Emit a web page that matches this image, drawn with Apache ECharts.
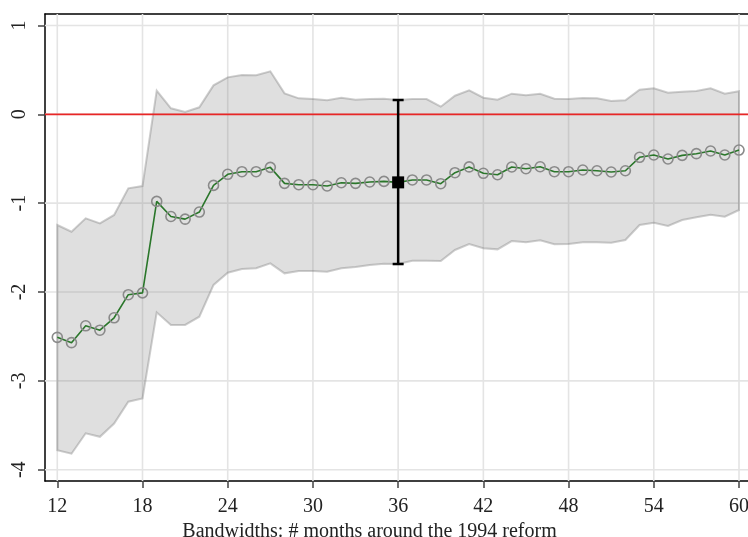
<!DOCTYPE html>
<html>
<head>
<meta charset="utf-8">
<script src="https://cdn.jsdelivr.net/npm/echarts@6/dist/echarts.min.js"></script>
<style>
  html, body { margin: 0; padding: 0; background: #ffffff; }
  #chart { width: 748px; height: 537px; }
</style>
</head>
<body>
<div id="chart"></div>
<script>
// Bandwidth (months around the 1994 reform)
const months = [
  12, 13, 14, 15, 16, 17, 18, 19, 20, 21, 22, 23, 24, 25, 26, 27, 28,
  29, 30, 31, 32, 33, 34, 35, 36, 37, 38, 39, 40, 41, 42, 43, 44, 45,
  46, 47, 48, 49, 50, 51, 52, 53, 54, 55, 56, 57, 58, 59, 60
];

// Point estimates per bandwidth
const estimate = [
  -2.51, -2.57, -2.38, -2.43, -2.29, -2.03, -2.01, -0.98, -1.15, -1.18,
  -1.10, -0.80, -0.675, -0.646, -0.646, -0.597, -0.777, -0.792, -0.792,
  -0.807, -0.770, -0.777, -0.762, -0.755, -0.766, -0.739, -0.739, -0.781,
  -0.657, -0.592, -0.664, -0.680, -0.593, -0.612, -0.590, -0.646, -0.646,
  -0.627, -0.635, -0.649, -0.635, -0.484, -0.458, -0.503, -0.462, -0.443,
  -0.413, -0.458, -0.402
];

// Upper bound of the confidence interval
const upper = [
  -1.246, -1.321, -1.171, -1.227, -1.133, -0.833, -0.807, 0.266, 0.068,
  0.026, 0.079, 0.326, 0.416, 0.442, 0.439, 0.484, 0.236, 0.180, 0.172,
  0.158, 0.187, 0.164, 0.172, 0.176, 0.161, 0.172, 0.172, 0.086, 0.209,
  0.270, 0.187, 0.164, 0.232, 0.214, 0.232, 0.176, 0.172, 0.183, 0.180,
  0.150, 0.158, 0.277, 0.293, 0.243, 0.254, 0.262, 0.293, 0.232, 0.259
];

// Lower bound of the confidence interval
const lower = [
  -3.780, -3.820, -3.590, -3.630, -3.480, -3.235, -3.197, -2.229, -2.371,
  -2.371, -2.278, -1.920, -1.783, -1.741, -1.733, -1.677, -1.790, -1.764,
  -1.764, -1.771, -1.733, -1.719, -1.696, -1.681, -1.685, -1.648, -1.648,
  -1.651, -1.527, -1.460, -1.508, -1.520, -1.426, -1.441, -1.418, -1.463,
  -1.460, -1.441, -1.441, -1.445, -1.415, -1.246, -1.220, -1.257, -1.190,
  -1.159, -1.130, -1.152, -1.077
];

// Axis ticks
const xTicks = [12, 18, 24, 30, 36, 42, 48, 54, 60];
const yTicks = [-4, -3, -2, -1, 0, 1];

// Bandwidth whose estimate is shown with its interval
const markedBandwidth = 36;

const X_MIN = 11.134, X_MAX = 60.634;
const Y_MIN = -4.127, Y_MAX = 1.129;
const FONT = 'Liberation Serif';

const chart = echarts.init(document.getElementById('chart'), null, { renderer: 'canvas' });

const bandData = months.map((m, i) => [m, lower[i], upper[i]]);
const lineData = months.map((m, i) => [m, estimate[i]]);
const mi = months.indexOf(markedBandwidth);
const barData = [[markedBandwidth, lower[mi], upper[mi], estimate[mi]]];

const option = {
  animation: false,
  backgroundColor: '#ffffff',
  grid: { left: 45, top: 14, right: 0, bottom: 56, containLabel: false, outerBoundsMode: 'none' },
  xAxis: [
    {
      type: 'value',
      position: 'bottom',
      min: X_MIN,
      max: X_MAX,
      axisLine: { show: true, onZero: false, lineStyle: { color: '#000', width: 1.5 } },
      axisTick: { show: true, customValues: xTicks, length: 7, lineStyle: { color: '#444', width: 1.5 } },
      axisLabel: { customValues: xTicks, margin: 16, fontFamily: FONT, fontSize: 20, color: '#222' },
      splitLine: { show: false },
      name: 'Bandwidths: # months around the 1994 reform',
      nameLocation: 'middle',
      nameGap: 32,
      nameTextStyle: { fontFamily: FONT, fontSize: 20, color: '#222', padding: [0, 54, 0, 0] }
    },
    {
      type: 'value',
      position: 'top',
      min: X_MIN,
      max: X_MAX,
      axisLine: { show: true, onZero: false, lineStyle: { color: '#000', width: 1.5 } },
      axisTick: { show: false },
      axisLabel: { show: false },
      splitLine: { show: false }
    }
  ],
  yAxis: {
    type: 'value',
    min: Y_MIN,
    max: Y_MAX,
    axisLine: { show: true, onZero: false, lineStyle: { color: '#000', width: 1.5 } },
    axisTick: { show: true, customValues: yTicks, length: 7, lineStyle: { color: '#444', width: 1.5 } },
    axisLabel: {
      customValues: yTicks, rotate: 90, margin: 15,
      fontFamily: FONT, fontSize: 20, color: '#222',
      formatter: v => String(v)
    },
    splitLine: { show: false }
  },
  series: [
    // vertical grid lines
    {
      type: 'custom',
      z: 1,
      silent: true,
      data: xTicks.map(v => [v, 0]),
      renderItem: (params, api) => {
        const a = api.coord([api.value(0), Y_MIN]);
        const b = api.coord([api.value(0), Y_MAX]);
        return { type: 'line', shape: { x1: a[0], y1: a[1], x2: b[0], y2: b[1] },
                 style: { stroke: '#e4e4e4', lineWidth: 1.6 } };
      }
    },
    // horizontal grid lines
    {
      type: 'custom',
      z: 1,
      silent: true,
      data: yTicks.map(v => [12, v]),
      renderItem: (params, api) => {
        const a = api.coord([X_MIN, api.value(1)]);
        const b = api.coord([X_MAX, api.value(1)]);
        return { type: 'line', shape: { x1: a[0], y1: a[1], x2: b[0], y2: b[1] },
                 style: { stroke: '#e4e4e4', lineWidth: 1.6 } };
      }
    },
    // confidence band
    {
      type: 'custom',
      z: 2,
      silent: true,
      data: bandData,
      encode: { x: 0, y: [1, 2] },
      renderItem: (params, api) => {
        if (params.dataIndex !== 0) return null;
        const pts = [];
        for (let i = 0; i < bandData.length; i++) pts.push(api.coord([bandData[i][0], bandData[i][2]]));
        for (let i = bandData.length - 1; i >= 0; i--) pts.push(api.coord([bandData[i][0], bandData[i][1]]));
        return {
          type: 'polygon',
          shape: { points: pts },
          style: { fill: 'rgba(120,120,120,0.24)', stroke: 'rgba(120,120,120,0.36)', lineWidth: 2 }
        };
      }
    },
    // zero reference line
    {
      type: 'custom',
      z: 3,
      silent: true,
      data: [[12, 0]],
      renderItem: (params, api) => {
        const a = api.coord([X_MIN, api.value(1)]);
        const b = api.coord([X_MAX, api.value(1)]);
        return { type: 'line', shape: { x1: a[0], y1: a[1], x2: b[0], y2: b[1] },
                 style: { stroke: '#e82626', lineWidth: 1.8 } };
      }
    },
    // point estimates
    {
      type: 'line',
      z: 4,
      data: lineData,
      lineStyle: { color: '#2a762a', width: 1.6 },
      symbol: 'circle',
      symbolSize: 10,
      showAllSymbol: true,
      itemStyle: { color: 'rgba(0,0,0,0)', borderColor: '#8a8a8a', borderWidth: 1.6 }
    },
    // highlighted estimate with its interval
    {
      type: 'custom',
      z: 5,
      silent: true,
      data: barData,
      encode: { x: 0, y: [1, 2, 3] },
      renderItem: (params, api) => {
        const x = api.value(0);
        const lo = api.coord([x, api.value(1)]);
        const hi = api.coord([x, api.value(2)]);
        const pt = api.coord([x, api.value(3)]);
        const cap = 5.5, half = 6;
        const st = { stroke: '#000', lineWidth: 2.5 };
        return {
          type: 'group',
          children: [
            { type: 'line', shape: { x1: lo[0], y1: lo[1], x2: hi[0], y2: hi[1] }, style: st },
            { type: 'line', shape: { x1: hi[0] - cap, y1: hi[1], x2: hi[0] + cap, y2: hi[1] }, style: st },
            { type: 'line', shape: { x1: lo[0] - cap, y1: lo[1], x2: lo[0] + cap, y2: lo[1] }, style: st },
            { type: 'rect', shape: { x: pt[0] - half, y: pt[1] - half, width: half * 2, height: half * 2 },
              style: { fill: '#000' } }
          ]
        };
      }
    }
  ]
};

chart.setOption(option);
</script>
</body>
</html>
